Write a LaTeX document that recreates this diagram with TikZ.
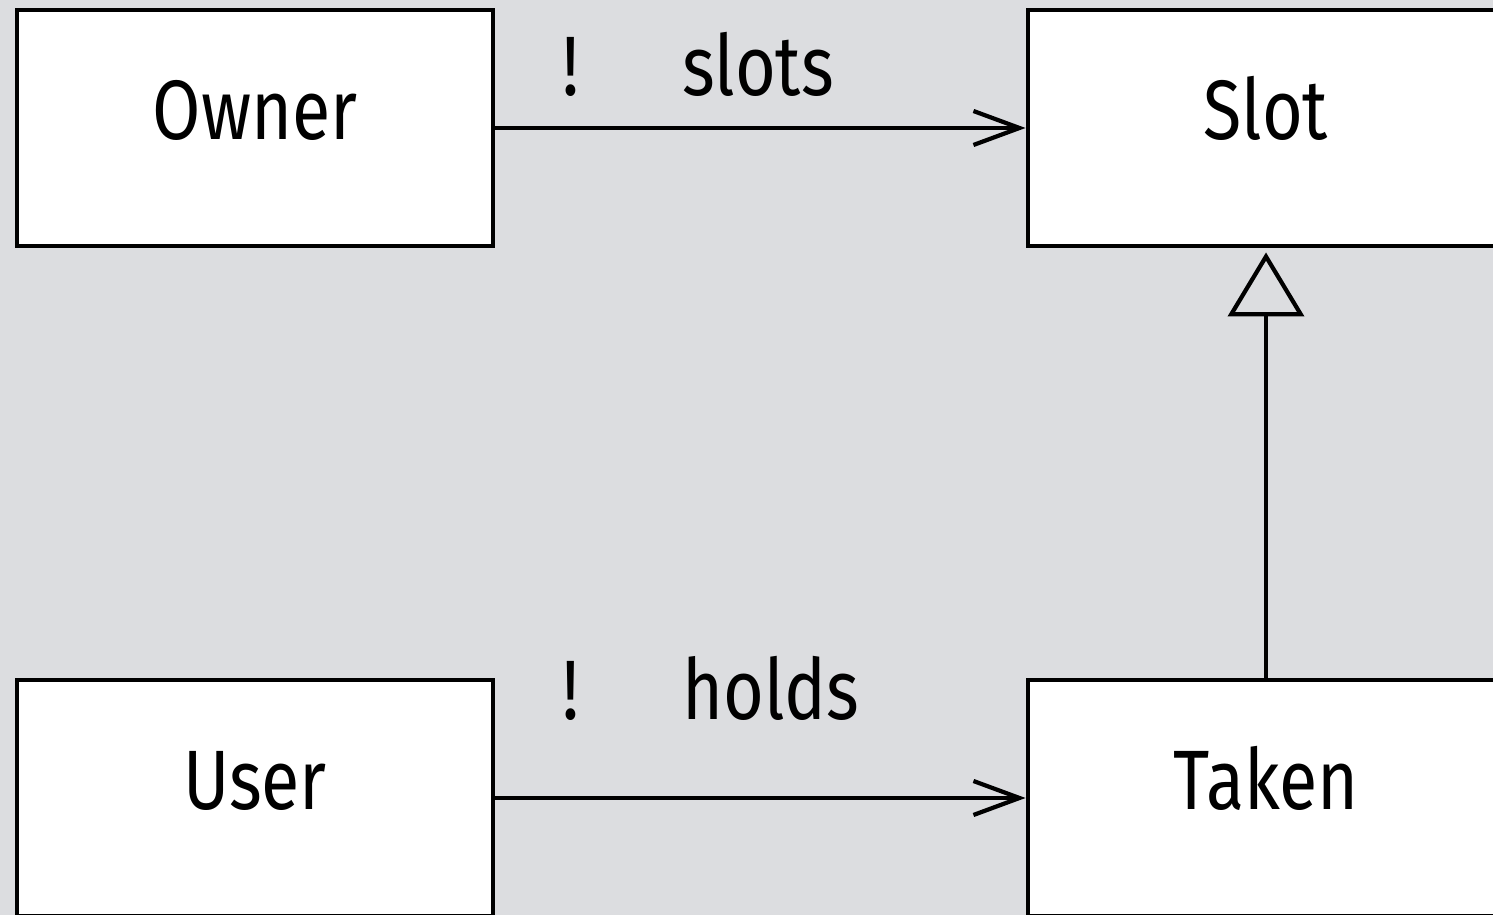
\documentclass[tikz,border=0pt]{standalone}
\usepackage{fontspec}
\setmainfont{Fira Sans}[FakeStretch=0.83]
\usepackage{xcolor}
\usepackage{tikz}
\usetikzlibrary{arrows.meta, positioning}
\definecolor{canvas}{RGB}{220,221,224}
\tikzset{
  classbox/.style={draw, fill=white, line width=1.4pt, minimum width=47.6mm, minimum height=23.6mm, inner sep=0pt},
  classname/.style={anchor=base, font=\fontsize{24}{28}\selectfont, inner sep=0pt},
  rolename/.style={anchor=base, font=\fontsize{24}{28}\selectfont, inner sep=0pt},
  assoc/.style={line width=1.2pt, -{Straight Barb[length=4.6mm, width=3.4mm, line width=1.2pt]}},
  inherit/.style={line width=1.2pt, -{Triangle[open, length=6.4mm, width=7.6mm, line width=1.2pt]}}
}
\begin{document}
\begin{tikzpicture}[x=0.1mm, y=-0.1mm]
  % Canvas
  \fill[canvas] (0,0) rectangle (1493,915);
  \useasboundingbox (0,0) rectangle (1493,915);

  % Classes
  \node[classbox] (owner) at (255,128) {};
  \node[classbox] (slot) at (1266,128) {};
  \node[classbox] (user) at (255,798) {};
  \node[classbox] (taken) at (1266,798) {};
  \node[classname] (ownername) at (255,140) {Owner};
  \node[classname] (slotname) at (1266,140) {Slot};
  \node[classname] (username) at (255,810) {User};
  \node[classname] (takenname) at (1266,810) {Taken};

  % Associations
  \draw[assoc] ([xshift=-0.4mm]owner.east) -- (slot.west);
  \draw[assoc] ([xshift=-0.4mm]user.east) -- (taken.west);
  \node[rolename] (slotsmark) at (571,96) {!};
  \node[rolename] (slotsrole) at (758,96) {slots};
  \node[rolename] (holdsmark) at (571,720) {!};
  \node[rolename] (holdsrole) at (771,720) {holds};

  % Generalization
  \draw[inherit] (taken.north) -- ([yshift=-0.4mm]slot.south);
\end{tikzpicture}
\end{document}
